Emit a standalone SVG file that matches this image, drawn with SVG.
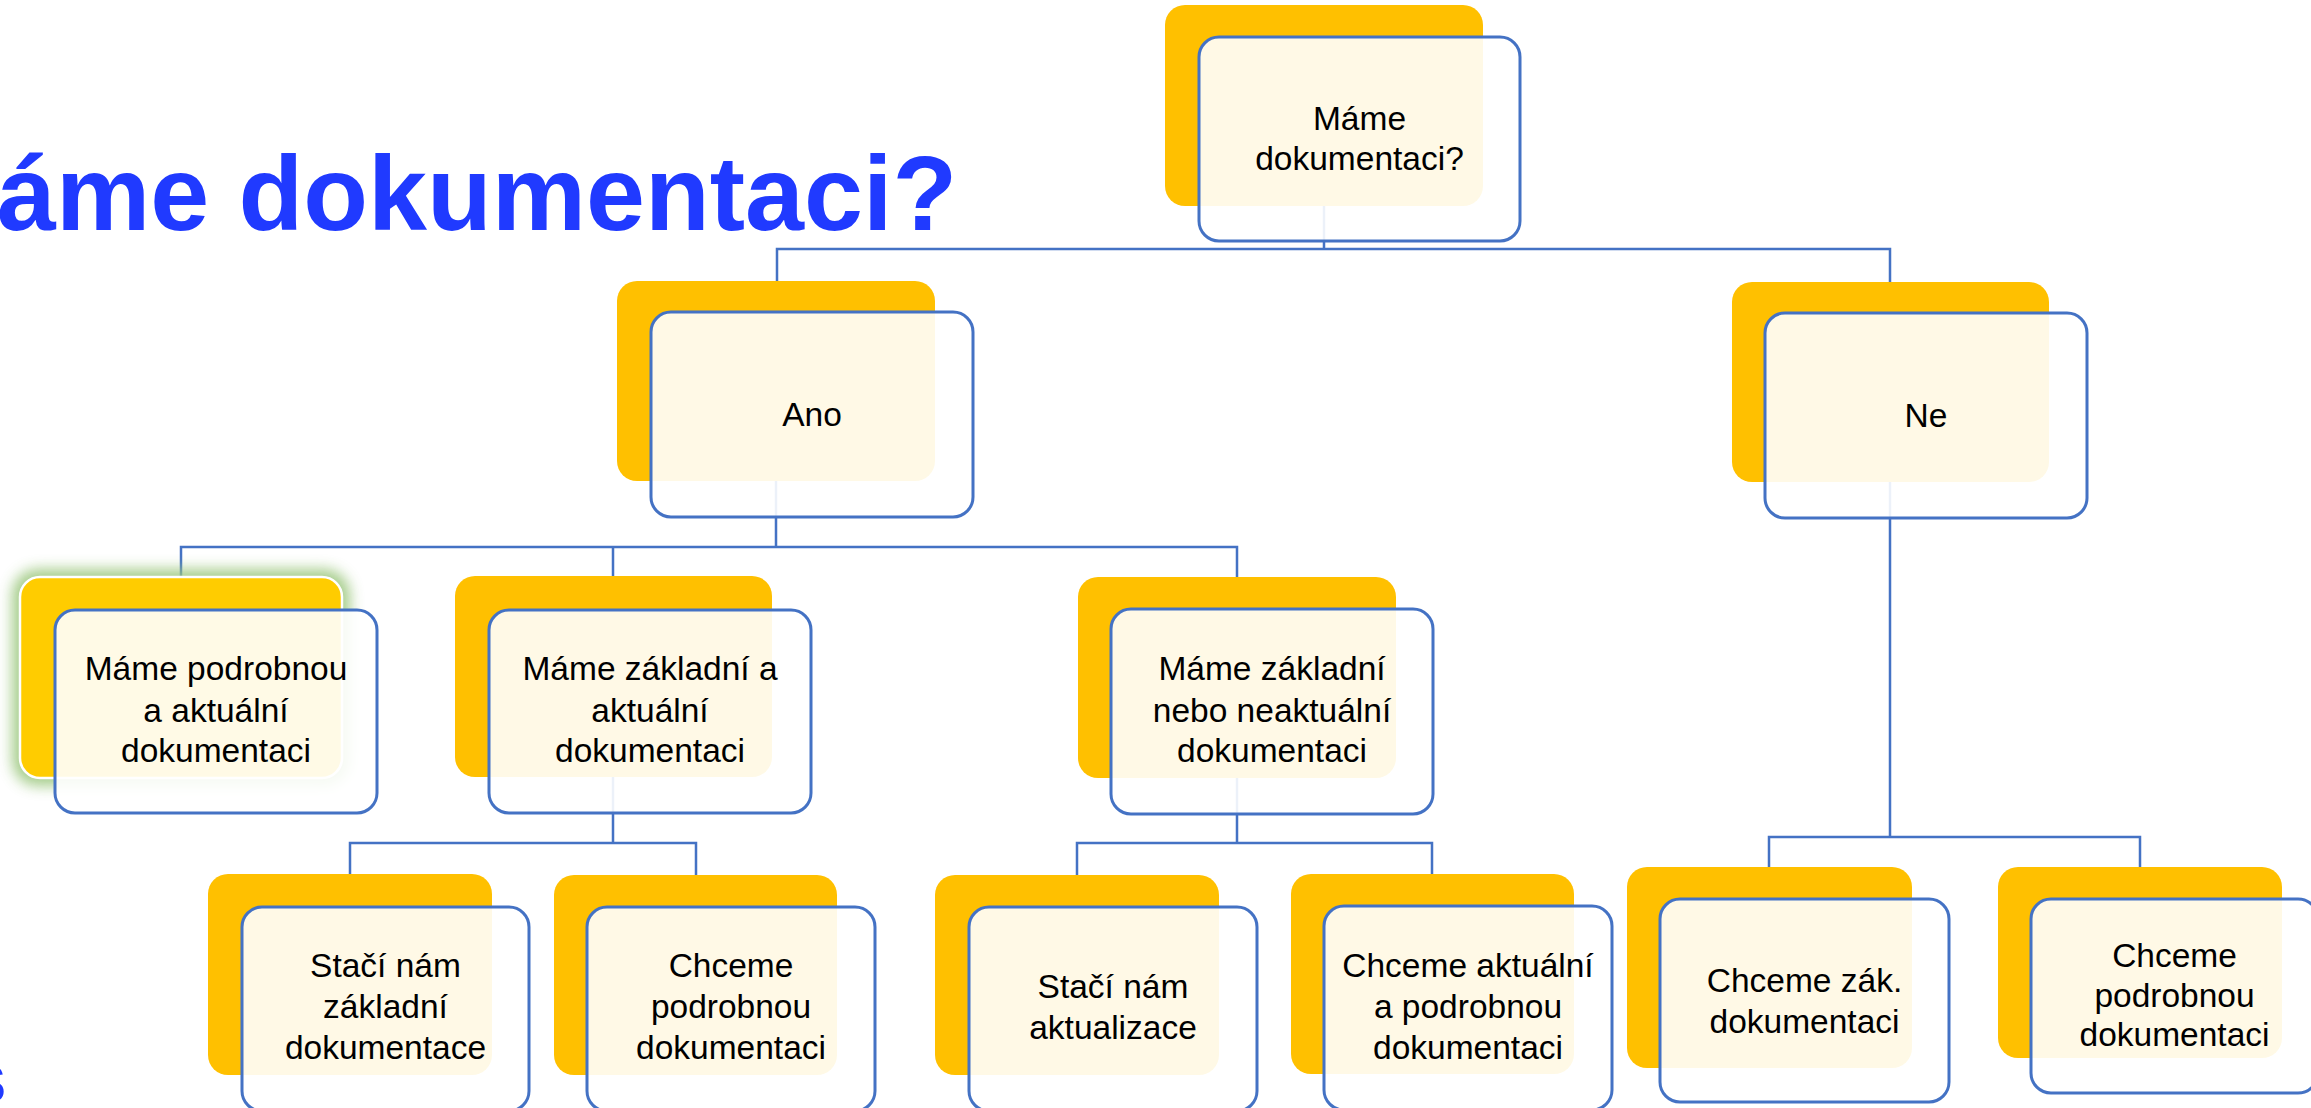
<svg xmlns="http://www.w3.org/2000/svg" width="2311" height="1108" viewBox="0 0 2311 1108">
<defs>
<style>
.y{fill:#FFC000}
.f{fill:#FFFFFF;fill-opacity:0.9;stroke:#4472C4;stroke-width:3}
.t{font-family:"Liberation Sans",Arial,sans-serif;font-size:33.5px;fill:#000;text-anchor:middle}
.c{fill:none;stroke:#4472C4;stroke-width:2.5}
.title{font-family:"Liberation Sans",Arial,sans-serif;font-weight:bold;fill:#203AFF}
</style>
<filter id="glow" x="-20%" y="-20%" width="140%" height="140%">
<feGaussianBlur stdDeviation="7"/>
</filter>
</defs>
<rect width="2311" height="1108" fill="#FFFFFF"/>
<text class="title" x="-3" y="230" font-size="106">áme dokumentaci?</text>
<text class="title" x="-29" y="1102" font-size="52">S</text>
<g id="connectors">
<path class="c" d="M1324 206V249M777 281V249H1890V282"/>
<path class="c" d="M776 481V547M181 577V547H1237V577M613 547V576"/>
<path class="c" d="M613 777V843M350 874V843H696V875"/>
<path class="c" d="M1237 778V843M1077 875V843H1432V874"/>
<path class="c" d="M1890 482V837M1769 867V837H2140V867"/>
</g>
<g id="n-top">
<rect class="y" x="1165" y="5" width="318" height="201" rx="20"/>
<rect class="f" x="1199" y="37" width="321" height="204" rx="20"/>
<text class="t" x="1359.5" y="130">Máme</text>
<text class="t" x="1359.5" y="170">dokumentaci?</text>
</g>
<g id="n-ano">
<rect class="y" x="617" y="281" width="318" height="200" rx="20"/>
<rect class="f" x="651" y="312" width="322" height="205" rx="20"/>
<text class="t" x="812" y="426">Ano</text>
</g>
<g id="n-ne">
<rect class="y" x="1732" y="282" width="317" height="200" rx="20"/>
<rect class="f" x="1765" y="313" width="322" height="205" rx="20"/>
<text class="t" x="1926" y="427">Ne</text>
</g>
<g id="n-a">
<rect x="12" y="569" width="338" height="217" rx="26" fill="#9CC77F" opacity="0.9" filter="url(#glow)"/>
<rect x="20" y="577" width="322" height="201" rx="20" fill="#FFCC00" stroke="#FFFFFF" stroke-width="2.5"/>
<rect class="f" x="55" y="610" width="322" height="203" rx="20"/>
<text class="t" x="216" y="680">Máme podrobnou</text>
<text class="t" x="216" y="722">a aktuální</text>
<text class="t" x="216" y="762">dokumentaci</text>
</g>
<g id="n-b">
<rect class="y" x="455" y="576" width="317" height="201" rx="20"/>
<rect class="f" x="489" y="610" width="322" height="203" rx="20"/>
<text class="t" x="650" y="680">Máme základní a</text>
<text class="t" x="650" y="722">aktuální</text>
<text class="t" x="650" y="762">dokumentaci</text>
</g>
<g id="n-c">
<rect class="y" x="1078" y="577" width="318" height="201" rx="20"/>
<rect class="f" x="1111" y="609" width="322" height="205" rx="20"/>
<text class="t" x="1272" y="680">Máme základní</text>
<text class="t" x="1272" y="722">nebo neaktuální</text>
<text class="t" x="1272" y="762">dokumentaci</text>
</g>
<g id="n-d">
<rect class="y" x="208" y="874" width="284" height="201" rx="20"/>
<rect class="f" x="242" y="907" width="287" height="204" rx="20"/>
<text class="t" x="385.5" y="977">Stačí nám</text>
<text class="t" x="385.5" y="1018">základní</text>
<text class="t" x="385.5" y="1059">dokumentace</text>
</g>
<g id="n-e">
<rect class="y" x="554" y="875" width="283" height="200" rx="20"/>
<rect class="f" x="587" y="907" width="288" height="204" rx="20"/>
<text class="t" x="731" y="977">Chceme</text>
<text class="t" x="731" y="1018">podrobnou</text>
<text class="t" x="731" y="1059">dokumentaci</text>
</g>
<g id="n-f">
<rect class="y" x="935" y="875" width="284" height="200" rx="20"/>
<rect class="f" x="969" y="907" width="288" height="204" rx="20"/>
<text class="t" x="1113" y="998">Stačí nám</text>
<text class="t" x="1113" y="1039">aktualizace</text>
</g>
<g id="n-g">
<rect class="y" x="1291" y="874" width="283" height="200" rx="20"/>
<rect class="f" x="1324" y="906" width="288" height="204" rx="20"/>
<text class="t" x="1468" y="977">Chceme aktuální</text>
<text class="t" x="1468" y="1018">a podrobnou</text>
<text class="t" x="1468" y="1059">dokumentaci</text>
</g>
<g id="n-h">
<rect class="y" x="1627" y="867" width="285" height="201" rx="20"/>
<rect class="f" x="1660" y="899" width="289" height="203" rx="20"/>
<text class="t" x="1804.5" y="992">Chceme zák.</text>
<text class="t" x="1804.5" y="1033">dokumentaci</text>
</g>
<g id="n-i">
<rect class="y" x="1998" y="867" width="284" height="191" rx="20"/>
<rect class="f" x="2031" y="899" width="287" height="194" rx="20"/>
<text class="t" x="2174.5" y="967">Chceme</text>
<text class="t" x="2174.5" y="1007">podrobnou</text>
<text class="t" x="2174.5" y="1046">dokumentaci</text>
</g>
</svg>
